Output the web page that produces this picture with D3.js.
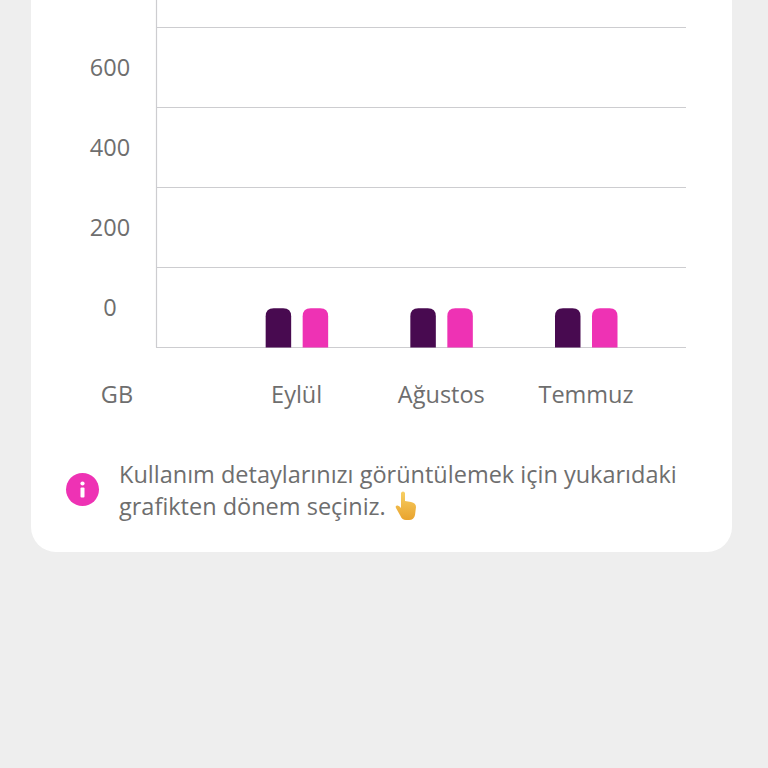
<!DOCTYPE html>
<html><head><meta charset="utf-8">
<script src="https://cdn.jsdelivr.net/npm/d3@7"></script>
<style>html,body{margin:0;padding:0;background:#eeeeee;overflow:hidden}svg{display:block}text{font-family:"Open Sans",sans-serif}</style>
</head><body><svg id="c" width="768" height="768"></svg>
<script>
const categories = ["", "Eylül", "Ağustos", "Temmuz"];
const seriesA = [null, -2, -2, -2];
const seriesB = [null, -2, -2, -2];
const tickLabels = [0, 200, 400, 600];
const gridValues = [-100, 100, 300, 500, 700];
const unitLabel = "GB";
const noteLines = ["Kullanım detaylarınızı görüntülemek için yukarıdaki", "grafikten dönem seçiniz."];

const svg = d3.select("#c");
const textColor = "#6e6e6e", gridColor = "#cdcdd0";
const colorA = "#480a50", colorB = "#ee32b4";
const fontSize = 23.5;

svg.append("path").attr("fill", "#fff")
  .attr("d", "M31 -30H732V527a25 25 0 0 1 -25 25H56a25 25 0 0 1 -25 -25Z");

const y = d3.scaleLinear().domain([-100, 700]).range([347.5, 27.5]);
const x0 = d3.scalePoint().domain(categories).range([152, 586]);

svg.append("g").selectAll("line").data(gridValues).join("line")
  .attr("x1", 156).attr("x2", 686)
  .attr("y1", d => y(d)).attr("y2", d => y(d))
  .attr("stroke", gridColor).attr("stroke-width", 1.2);
svg.append("line").attr("x1", 156.5).attr("x2", 156.5).attr("y1", 0).attr("y2", y(-100))
  .attr("stroke", gridColor).attr("stroke-width", 1.2);

svg.append("g").selectAll("text").data(tickLabels).join("text")
  .attr("x", 110).attr("y", d => y(d) + 0.5).attr("dy", "0.36em")
  .attr("text-anchor", "middle").attr("fill", textColor).attr("font-size", fontSize)
  .text(d => d);

svg.append("g").selectAll("text").data(categories.slice(1)).join("text")
  .attr("x", d => x0(d)).attr("y", 395).attr("dy", "0.36em")
  .attr("text-anchor", "middle").attr("fill", textColor).attr("font-size", fontSize)
  .text(d => d);
svg.append("text").attr("x", 117).attr("y", 395).attr("dy", "0.36em")
  .attr("text-anchor", "middle").attr("fill", textColor).attr("font-size", fontSize).text(unitLabel);

function barPath(cx, top, bottom, w, r) {
  const l = cx, rr = cx + w;
  return `M${l} ${bottom}V${top + r}Q${l} ${top} ${l + r} ${top}H${rr - r}Q${rr} ${top} ${rr} ${top + r}V${bottom}Z`;
}
const barW = 25.5;
function drawBars(values, off, color) {
  svg.append("g").selectAll("path")
    .data(categories.map((c, i) => ({c, v: values[i]})).filter(d => d.v !== null))
    .join("path").attr("fill", color)
    .attr("d", d => barPath(x0(d.c) + off, y(d.v), y(-100), barW, 8));
}
drawBars(seriesA, -31, colorA);
drawBars(seriesB, 6, colorB);

const info = svg.append("g").attr("transform", "translate(82.5,489.5)");
info.append("circle").attr("r", 16.5).attr("fill", colorB);
info.append("circle").attr("cy", -6).attr("r", 2.1).attr("fill", "#fff");
info.append("rect").attr("x", -2).attr("y", -2).attr("width", 4).attr("height", 10).attr("rx", 1).attr("fill", "#fff");

svg.append("g").selectAll("text").data(noteLines).join("text")
  .attr("x", 119).attr("y", (d, i) => 474.5 + i * 32).attr("dy", "0.36em")
  .attr("fill", textColor).attr("font-size", fontSize).text(d => d);

const defs = svg.append("defs");
const g = defs.append("linearGradient").attr("id", "h").attr("x1", 0).attr("x2", 0).attr("y1", 0).attr("y2", 1);
g.append("stop").attr("offset", 0).attr("stop-color", "#f7cf63");
g.append("stop").attr("offset", 1).attr("stop-color", "#e9a32e");
svg.append("g").attr("transform", "translate(395,491)").append("path").attr("fill", "url(#h)")
  .attr("d", "M6 2Q6.5 0.5 8 0.5Q9.5 0.5 10 2V10L16 11Q21 12 21 16L20 24Q19 29 14 29H11Q7 29 5.5 25L1 17Q0 15 2 14.5Q4 14 6 17Z");
</script></body></html>
